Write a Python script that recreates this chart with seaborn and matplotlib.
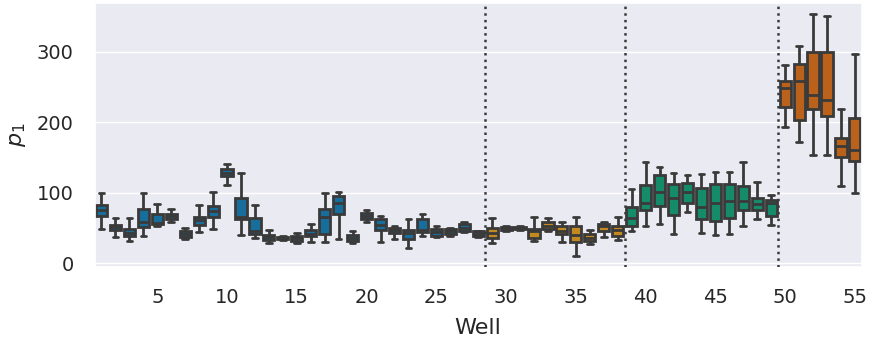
import numpy as np
import pandas as pd
import matplotlib
matplotlib.use("Agg")
import matplotlib.pyplot as plt
import seaborn as sns

# Per-well summary statistics of p1 (whisker ends, quartiles, median)
wells = list(range(1, 56))
whisker_low = [48, 37, 32, 38, 53, 58, 34, 44, 49, 111,
               40, 36, 28, 33, 28, 30, 30, 34, 28, 58,
               30, 34, 22, 38, 37, 39, 44, 37, 29, 45,
               47, 31, 45, 30, 10, 27, 37, 33, 45, 53,
               55, 41, 72, 43, 40, 41, 52, 63, 54, 193,
               172, 153, 154, 110, 100]
q1 = [67, 47, 38, 51, 55, 62, 37, 54, 66, 123,
      62, 41, 33, 34.5, 31, 38, 41, 69, 32, 63,
      47, 43, 34, 44, 39, 41, 46, 38, 36, 47.5,
      48.5, 36, 48, 41, 30, 31.5, 46, 39, 52, 76,
      81, 68, 86, 62, 60, 64, 76, 76, 67, 222,
      203, 218, 209, 150, 145]
median = [75, 51, 43, 58, 57, 67, 41, 61, 74, 128,
          66, 46, 37, 36, 35, 42, 65, 86, 36, 67,
          54, 47, 43, 47, 44, 45, 50, 41, 43, 49.5,
          50, 45, 53, 45, 40, 35, 52, 47, 64, 85,
          101, 93, 101, 80, 85, 88, 88, 84, 86, 248,
          258, 238, 231, 166, 161]
q3 = [82, 54, 49, 77, 70, 70, 46, 66, 81, 134,
      92, 64, 40, 37.5, 38, 47, 77, 95, 40, 71,
      62, 50, 47, 62, 48, 48, 55, 45, 50, 51,
      51, 49, 58, 53, 52, 42, 55, 53, 80, 111,
      125, 112, 113, 107, 112, 112, 110, 92, 90, 258,
      283, 299, 299, 178, 206]
whisker_high = [99, 64, 64, 100, 84, 77, 50, 83, 101, 140,
                128, 83, 47, 39, 43, 56, 99, 101, 45, 75,
                67, 53, 63, 69, 52, 50, 58, 46, 64, 53,
                52, 65, 64, 59, 66, 47, 59, 65, 105, 143,
                137, 128, 125, 126, 130, 129, 143, 115, 96, 281,
                308, 353, 351, 219, 297]
group = ["A"] * 28 + ["B"] * 10 + ["C"] * 11 + ["D"] * 6
group_breaks = [27.5, 37.5, 48.5]
xtick_labels = [5, 10, 15, 20, 25, 30, 35, 40, 45, 50, 55]

# Five values per well whose quartiles and extremes reproduce the summary
rows = []
for w, g, lo, a, m, b, hi in zip(wells, group, whisker_low, q1, median, q3, whisker_high):
    for v in (lo, a, m, b, hi):
        rows.append({"Well": w, "Group": g, "p1": v})
df = pd.DataFrame(rows)

sns.set_theme(style="darkgrid", palette="colorblind", font_scale=1.25)

fig, ax = plt.subplots(figsize=(8.75, 3.41), dpi=100)
fig.subplots_adjust(left=0.108, right=0.985, top=0.99, bottom=0.217)

sns.boxplot(data=df, x="Well", y="p1", hue="Group", order=wells,
            palette="colorblind", whis=(0, 100), showfliers=False,
            linewidth=2, linecolor="#3a3a3a", legend=False, ax=ax)

for xb in group_breaks:
    ax.axvline(xb, color="#3a3a3a", linestyle=":", linewidth=1.8, zorder=5)

ax.set_xticks([w - 1 for w in xtick_labels])
ax.set_xticklabels([str(w) for w in xtick_labels])
ax.tick_params(axis="both", labelsize=14, pad=9)
ax.set_ylim(-5.5, 368.5)
ax.set_yticks([0, 100, 200, 300])
ax.set_xlabel("Well", fontsize=16, labelpad=8)
ax.set_ylabel("$p_1$", fontsize=16, labelpad=6)

fig.savefig("out.png", dpi=100)
